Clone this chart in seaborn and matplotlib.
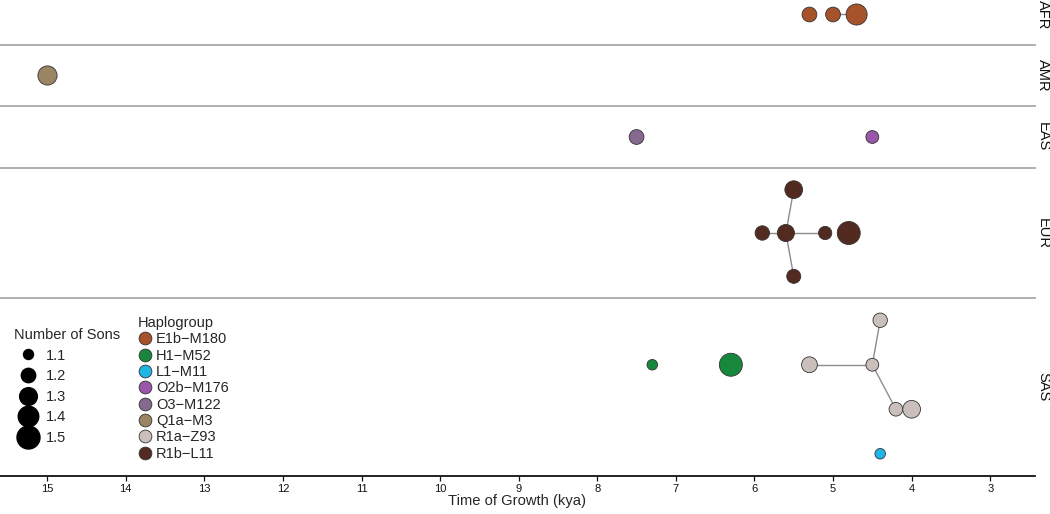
import numpy as np
import pandas as pd
import matplotlib
matplotlib.use("Agg")
import matplotlib.pyplot as plt
import matplotlib.transforms as mtransforms
from matplotlib import font_manager
from matplotlib.lines import Line2D
import seaborn as sns

# ===================== DATA =====================
regions = ["AFR", "AMR", "EAS", "EUR", "SAS"]
region_rows = [1, 1, 1, 3, 4]

region = ["AFR", "AFR", "AFR",
          "AMR",
          "EAS", "EAS",
          "EUR", "EUR", "EUR", "EUR", "EUR", "EUR",
          "SAS", "SAS", "SAS", "SAS", "SAS", "SAS", "SAS", "SAS"]
haplogroup = ["E1b−M180", "E1b−M180", "E1b−M180",
              "Q1a−M3",
              "O3−M122", "O2b−M176",
              "R1b−L11", "R1b−L11", "R1b−L11", "R1b−L11", "R1b−L11", "R1b−L11",
              "H1−M52", "H1−M52", "R1a−Z93", "R1a−Z93", "R1a−Z93", "R1a−Z93", "R1a−Z93", "L1−M11"]
time_kya = [5.3, 5.0, 4.7,
            15.0,
            7.5, 4.5,
            5.5, 5.9, 5.6, 5.1, 4.8, 5.5,
            7.3, 6.3, 5.3, 4.5, 4.4, 4.2, 4.0, 4.4]
row = [1, 1, 1,
       1,
       1, 1,
       1, 2, 2, 2, 2, 3,
       2, 2, 2, 2, 1, 3, 3, 4]
sons = [1.21, 1.21, 1.42,
        1.35,
        1.21, 1.16,
        1.30, 1.20, 1.28, 1.17, 1.50, 1.19,
        1.11, 1.56, 1.24, 1.16, 1.20, 1.18, 1.30, 1.11]

# links between points (index pairs)
edges = [(1, 2),
         (6, 8), (7, 8), (8, 9), (8, 11),
         (14, 15), (15, 16), (15, 17), (17, 18)]

haplo_order = ["E1b−M180", "H1−M52", "L1−M11", "O2b−M176",
               "O3−M122", "Q1a−M3", "R1a−Z93", "R1b−L11"]
haplo_colors = ["#A6522A", "#17883B", "#1EB6E6", "#9A56A9",
                "#87698F", "#9B8461", "#CBBFBC", "#532A20"]
palette = dict(zip(haplo_order, haplo_colors))

size_levels = [1.1, 1.2, 1.3, 1.4, 1.5]
size_range = (52, 274)

df = pd.DataFrame({"region": region, "haplogroup": haplogroup,
                   "time": time_kya, "row": row, "sons": sons})

# ===================== FIGURE =====================
sns.set_style("white")
plt.rcParams["font.family"] = ["Liberation Sans", "DejaVu Sans"]

# slightly narrow face for the tick numbers, if present
axis_font = "Liberation Sans"
try:
    font_manager.findfont("Liberation Sans Narrow", fallback_to_default=False)
    axis_font = "Liberation Sans Narrow"
except Exception:
    pass
tick_size = 8.6 if axis_font != "Liberation Sans" else 8.0

fig = plt.figure(figsize=(10.5, 5.14), dpi=100)
gs = fig.add_gridspec(5, 1, height_ratios=[45, 61, 62, 130, 178],
                      left=0, right=1035 / 1050, bottom=1 - 476 / 514, top=1,
                      hspace=0)

axes = []
for i, (reg, nrow) in enumerate(zip(regions, region_rows)):
    ax = fig.add_subplot(gs[i], sharex=axes[0] if axes else None)
    axes.append(ax)
    sub = df[df["region"] == reg]

    for a, b in edges:
        if region[a] == reg:
            ax.plot([time_kya[a], time_kya[b]], [row[a], row[b]],
                    color="#8c8c8c", lw=1.0, zorder=1)

    sns.scatterplot(data=sub, x="time", y="row", hue="haplogroup",
                    palette=palette, hue_order=haplo_order,
                    size="sons", sizes=size_range, size_norm=(1.1, 1.5),
                    edgecolor="#333333", linewidth=0.6, legend=False,
                    zorder=3, ax=ax)

    if reg == "AFR":
        ax.set_ylim(nrow + 0.5, 0.5 + (1 - 45 / 61))
    else:
        ax.set_ylim(nrow + 0.5, 0.5)
    ax.set_yticks([])
    ax.set_ylabel("")
    ax.set_xlabel("")

    for s in ["left", "right", "top", "bottom"]:
        ax.spines[s].set_visible(False)
    if i > 0:
        ax.spines["top"].set_visible(True)
        ax.spines["top"].set_color("#a8a8a8")
        ax.spines["top"].set_linewidth(1.3)

    trans = mtransforms.blended_transform_factory(ax.transAxes, ax.transData)
    ax.text(1.0077, (nrow + 1) / 2, reg, transform=trans, rotation=270,
            ha="center", va="center", fontsize=10.5, color="#111111")

    if i < len(regions) - 1:
        ax.tick_params(axis="x", bottom=False, labelbottom=False)

ax = axes[-1]
ax.set_xlim(15.6, 2.43)
ax.set_xticks(range(15, 2, -1))
ax.spines["bottom"].set_visible(True)
ax.spines["bottom"].set_color("#111111")
ax.spines["bottom"].set_linewidth(1.3)
ax.tick_params(axis="x", bottom=True, direction="out", length=3.8, width=0.9,
               color="#111111", pad=1.8, labelsize=tick_size,
               labelcolor="#111111")
for lab in ax.get_xticklabels():
    lab.set_family(axis_font)
ax.set_xlabel("Time of Growth (kya)", fontsize=10.6, labelpad=0.5)

# ===================== LEGENDS =====================
def size_to_ms(v):
    s = size_range[0] + (v - 1.1) / 0.4 * (size_range[1] - size_range[0])
    return np.sqrt(s)

size_handles = [Line2D([], [], marker="o", linestyle="", color="black",
                       markersize=size_to_ms(v)) for v in size_levels]
leg1 = fig.legend(size_handles, [f"{v:.1f}" for v in size_levels],
                  title="Number of Sons", loc="upper left",
                  bbox_to_anchor=(14 / 1050, 1 - 328 / 514),
                  frameon=False, borderpad=0, borderaxespad=0,
                  fontsize=10.5, title_fontsize=10.5, alignment="left",
                  handlelength=1.92, handletextpad=0.27, labelspacing=0.45)

haplo_handles = [Line2D([], [], marker="o", linestyle="", markerfacecolor=c,
                        markeredgecolor="#333333", markeredgewidth=0.6,
                        markersize=9.2) for c in haplo_colors]
leg2 = fig.legend(haplo_handles, haplo_order, title="Haplogroup",
                  loc="upper left", bbox_to_anchor=(138 / 1050, 1 - 316 / 514),
                  frameon=False, borderpad=0, borderaxespad=0,
                  fontsize=10.5, title_fontsize=10.5, alignment="left",
                  handlelength=0.95, handletextpad=0.3, labelspacing=0.16)

fig.savefig("out.png", dpi=100)
